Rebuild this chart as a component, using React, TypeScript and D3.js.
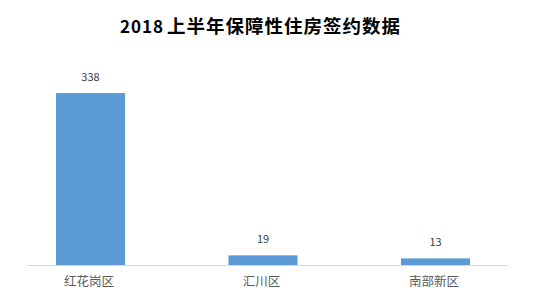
import React from "react";
import * as d3 from "d3";

const categories: string[] = ["红花岗区", "汇川区", "南部新区"];
const values: number[] = [338, 19, 13];
const titleYear = "2018";
const titleRest = "上半年保障性住房签约数据";

const W = 535;
const H = 299;
const baseY = 265;
const cjk = "'Noto Sans CJK SC', 'Noto Sans', sans-serif";

export default function App() {
  const x = d3
    .scaleBand<string>()
    .domain(categories)
    .range([4.25, 521.75])
    .paddingInner(0.6)
    .paddingOuter(0.3);
  const y = d3.scaleLinear().domain([0, 400]).range([baseY, 61.5]);

  return (
    <svg
      width={W}
      height={H}
      style={{ position: "absolute", left: 0, top: 0, background: "#fff" }}
    >
      <text y={33} fontFamily={cjk} fontWeight="bold" fill="#000">
        <tspan x={120} fontSize={17} textLength={43} lengthAdjust="spacing">
          {titleYear}
        </tspan>
        <tspan x={167} fontSize={18.5} textLength={233} lengthAdjust="spacing">
          {titleRest}
        </tspan>
      </text>
      {categories.map((c, i) => (
        <g key={c}>
          <rect
            x={x(c)}
            y={y(values[i])}
            width={x.bandwidth()}
            height={baseY - y(values[i])}
            fill="#5b9bd5"
          />
          <text
            x={(x(c) as number) + x.bandwidth() / 2}
            y={y(values[i]) - 12}
            textAnchor="middle"
            fontFamily={cjk}
            fontSize={11}
            fill="#404040"
          >
            {values[i]}
          </text>
          <text
            x={(x(c) as number) + x.bandwidth() / 2 - 1.5}
            y={286}
            textAnchor="middle"
            fontFamily={cjk}
            fontSize={12.5}
            fill="#595959"
          >
            {c}
          </text>
        </g>
      ))}
      <line x1={27} x2={508} y1={baseY + 0.5} y2={baseY + 0.5} stroke="#d9d9d9" strokeWidth={1} />
    </svg>
  );
}
